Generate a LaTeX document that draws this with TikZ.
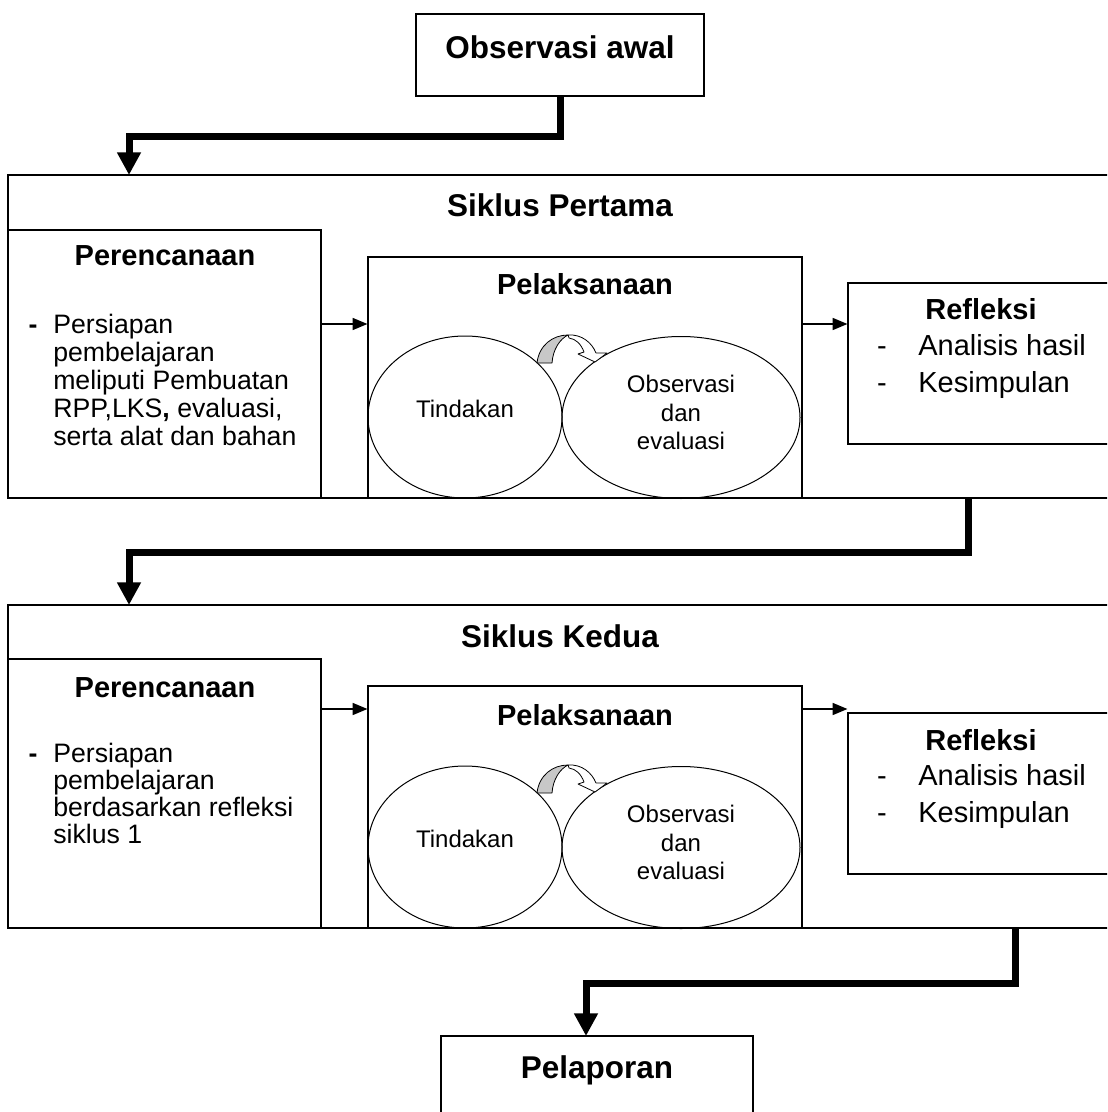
\documentclass[tikz,border=0pt]{standalone}
\usepackage{fontspec}
\setmainfont{Liberation Sans}
\usetikzlibrary{arrows.meta,shapes.geometric,fit}
\definecolor{shadegray}{RGB}{200,200,200}
\begin{document}
\begin{tikzpicture}[x=0.75pt,y=-0.75pt,
  box/.style={draw, line width=0.9pt, inner sep=0pt, fill=white},
  ellnode/.style={draw, ellipse, line width=0.75pt, inner sep=0pt, minimum height=121.5pt},
  bigt/.style={font=\fontsize{23.6}{28}\selectfont\bfseries, anchor=base, inner sep=0pt},
  tit/.style={font=\fontsize{21.75}{26}\selectfont\bfseries, anchor=base, inner sep=0pt},
  bodytxt/.style={font=\fontsize{20}{24}\selectfont, anchor=base west, inner sep=0pt},
  bodydash/.style={font=\fontsize{20}{24}\selectfont\bfseries, anchor=base, inner sep=0pt},
  elltxt/.style={font=\fontsize{18}{22}\selectfont, anchor=base, inner sep=0pt},
  refltxt/.style={font=\fontsize{21.75}{26}\selectfont, anchor=base west, inner sep=0pt},
  refldash/.style={font=\fontsize{21.75}{26}\selectfont, anchor=base, inner sep=0pt},
  big/.style={line width=5.25pt, line join=miter, -{Triangle[length=17pt,width=17pt]}},
  sarrow/.style={line width=0.9pt, -{Triangle[length=11pt,width=9pt]}},
  curvarrow/.pic={
    \filldraw[fill=shadegray, line width=0.6pt, line join=round]
      (-31,0) .. controls (-29,-18) and (-15,-28) .. (0,-28)
      .. controls (-8,-24) and (-15,-14) .. (-16,0) -- cycle;
    \filldraw[fill=white, line width=0.6pt, line join=round]
      (0,-28) .. controls (14,-29) and (24,-20) .. (28,-10)
      -- (39,-10) -- (27,-1) -- (10,-9) -- (16,-11)
      .. controls (13,-19) and (8,-24) .. (1,-25) -- cycle;
  }
]
\useasboundingbox (0,0) rectangle (1107,1112);
\clip (0,0) rectangle (1107,1112);

% ---------- top box ----------
\node[box, fit={(416,14) (704,96)}] (obs) {};
\node[bigt] (tobs) at (560,59) {Observasi awal};

% ---------- Siklus Pertama ----------
\node[box, fit={(8,175) (1125,498)}] (s1) {};
\node[box, fit={(8,230) (321,498)}] (p1) {};
\node[box, fit={(368,257) (802,498)}] (x1) {};
\node[box, fit={(848,283) (1125,444)}] (r1) {};
\node[ellnode, minimum width=145.5pt] (e1a) at (465,417) {};
\node[ellnode, minimum width=178.5pt] (e1b) at (681,417.5) {};
\pic at (568,363) {curvarrow};

\node[bigt] (ts1) at (560,217) {Siklus Pertama};
\node[tit] (tp1) at (165,266) {Perencanaan};
\node[bodydash] (dp1) at (33,333) {-};
\node[bodytxt] (l11) at (53,333) {Persiapan};
\node[bodytxt] (l12) at (53,361) {pembelajaran};
\node[bodytxt] (l13) at (53,389) {meliputi Pembuatan};
\node[bodytxt] (l14) at (53,417) {RPP,LKS\textbf{,} evaluasi,};
\node[bodytxt] (l15) at (53,445) {serta alat dan bahan};
\node[tit] (tx1) at (585,295) {Pelaksanaan};
\node[elltxt] (tt1) at (465,417) {Tindakan};
\node[elltxt] (to11) at (681,392) {Observasi};
\node[elltxt] (to12) at (681,421) {dan};
\node[elltxt] (to13) at (681,449) {evaluasi};
\node[tit] (tr1) at (981,320) {Refleksi};
\node[refldash] (dr11) at (882,355) {-};
\node[refltxt] (r11) at (918,355) {Analisis hasil};
\node[refldash] (dr12) at (882,392) {-};
\node[refltxt] (r12) at (918,392) {Kesimpulan};

\coordinate (y1) at (0,324);
\draw[sarrow] (p1.east |- y1) -- (x1.west |- y1);
\draw[sarrow] (x1.east |- y1) -- (r1.west |- y1);

% ---------- Siklus Kedua ----------
\node[box, fit={(8,605) (1125,928)}] (s2) {};
\node[box, fit={(8,659) (321,928)}] (p2) {};
\node[box, fit={(368,686) (802,928)}] (x2) {};
\node[box, fit={(848,713) (1125,874)}] (r2) {};
\node[ellnode, minimum width=145.5pt] (e2a) at (465,847) {};
\node[ellnode, minimum width=178.5pt] (e2b) at (681,847.5) {};
\pic at (568,793) {curvarrow};

\node[bigt] (ts2) at (560,647) {Siklus Kedua};
\node[tit] (tp2) at (165,697) {Perencanaan};
\node[bodydash] (dp2) at (33,762) {-};
\node[bodytxt] (l21) at (53,762) {Persiapan};
\node[bodytxt] (l22) at (53,789) {pembelajaran};
\node[bodytxt] (l23) at (53,816) {berdasarkan refleksi};
\node[bodytxt] (l24) at (53,843) {siklus 1};
\node[tit] (tx2) at (585,725) {Pelaksanaan};
\node[elltxt] (tt2) at (465,847) {Tindakan};
\node[elltxt] (to21) at (681,822) {Observasi};
\node[elltxt] (to22) at (681,851) {dan};
\node[elltxt] (to23) at (681,879) {evaluasi};
\node[tit] (tr2) at (981,750) {Refleksi};
\node[refldash] (dr21) at (882,785) {-};
\node[refltxt] (r21) at (918,785) {Analisis hasil};
\node[refldash] (dr22) at (882,822) {-};
\node[refltxt] (r22) at (918,822) {Kesimpulan};

\coordinate (y2) at (0,709);
\draw[sarrow] (p2.east |- y2) -- (x2.west |- y2);
\draw[sarrow] (x2.east |- y2) -- (r2.west |- y2);

% ---------- Pelaporan ----------
\node[box, fit={(441,1036) (753,1130)}] (pel) {};
\node[bigt] (tpel) at (597,1078) {Pelaporan};

% ---------- thick connectors ----------
\coordinate (k1) at (129,137);
\coordinate (e1) at (129,175);
\draw[big] (obs.south) |- (k1) -- (e1);

\coordinate (c2) at (968,552);
\coordinate (e2) at (129,605);
\draw[big] (s1.south -| c2) -- (c2) -| (e2);

\coordinate (c3) at (1015,983);
\coordinate (e3) at (586,1036);
\draw[big] (s2.south -| c3) -- (c3) -| (e3);
\end{tikzpicture}
\end{document}
